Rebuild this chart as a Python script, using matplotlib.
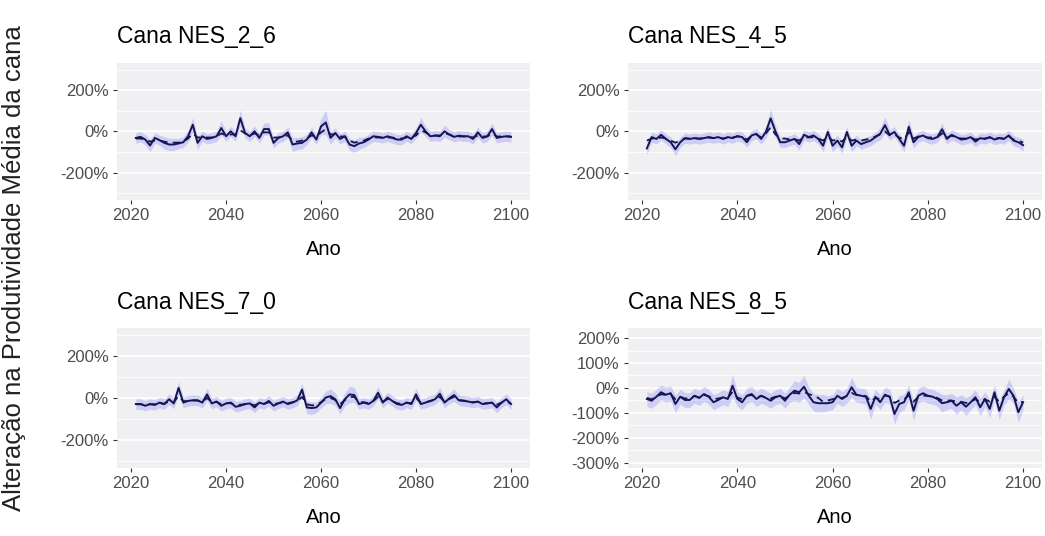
import numpy as np
import matplotlib
matplotlib.use("Agg")
import matplotlib.pyplot as plt
from matplotlib import font_manager
from matplotlib.ticker import FuncFormatter, MultipleLocator

# fonte estreita, como no grafico original (se existir)
nomes = {f.name for f in font_manager.fontManager.ttflist}
if 'Liberation Sans Narrow' in nomes:
    fonte_estreita = 'Liberation Sans Narrow'
    tam_tick, tam_titulo, tam_ano = 13.5, 18.5, 16.5
else:
    fonte_estreita = 'Liberation Sans'
    tam_tick, tam_titulo, tam_ano = 12, 16.5, 14.5

anos = list(range(2021, 2101))

titulos = ["Cana NES_2_6", "Cana NES_4_5", "Cana NES_7_0", "Cana NES_8_5"]

# linha continua (valores anuais, %)
nes_2_6 = [-32, -27, -40, -69, -32, -43, -56, -64, -64, -59,
           -53, -24, 32, -56, -24, -37, -32, -24, 16, -24,
           0, -24, 64, -8, -24, 0, -32, 11, 11, -56,
           -32, -24, -5, -64, -59, -56, -40, -5, -40, 24,
           43, -32, -8, -37, -24, -64, -72, -59, -53, -40,
           -24, -27, -32, -24, -32, -40, -40, -24, -37, -8,
           32, 0, -24, -21, -24, 0, -16, -27, -21, -24,
           -24, -37, -5, -32, -24, 11, -32, -27, -24, -27]
nes_4_5 = [-83, -28, -37, -17, -37, -53, -87, -53, -33, -37,
           -33, -37, -33, -28, -33, -28, -37, -28, -33, -23,
           -28, -53, -20, -12, -37, -3, 63, 0, -53, -53,
           -45, -37, -62, -17, -28, -20, -37, -70, -3, -70,
           -45, -78, -3, -70, -45, -62, -53, -45, -28, -12,
           30, -17, -3, -37, -70, 22, -53, -28, -20, -33,
           -37, -28, 10, -37, -17, -28, -40, -37, -28, -50,
           -33, -37, -28, -40, -33, -37, -20, -45, -53, -67]
nes_7_0 = [-29, -29, -37, -29, -33, -22, -29, -6, -26, 48,
           -22, -14, -11, -11, -22, 17, -26, -17, -37, -26,
           -22, -42, -37, -29, -26, -45, -22, -29, -14, -37,
           -26, -17, -29, -22, -11, 40, -45, -48, -45, -22,
           2, 9, -6, -48, -6, 17, 14, -29, -22, -29,
           -14, 25, -22, 2, -14, -29, -33, -22, -29, 17,
           -29, -22, -14, -6, 20, -22, -2, 14, -11, -14,
           -17, -22, -17, -29, -26, -22, -45, -22, -6, -29]
nes_8_5 = [-44, -51, -35, -17, -27, -21, -64, -35, -48, -48,
           -31, -40, -24, -35, -57, -48, -37, -44, 9, -44,
           -57, -31, -24, -44, -31, -40, -51, -37, -31, -51,
           -27, -11, -17, 5, -31, -57, -61, -61, -61, -57,
           -31, -44, -31, 3, -27, -31, -35, -84, -35, -57,
           -27, -35, -104, -64, -57, -17, -91, -31, -21, -31,
           -35, -44, -61, -57, -51, -71, -57, -75, -57, -37,
           -77, -44, -84, -17, -91, -37, -4, -31, -97, -57]

# linha tracejada (%)
trac_2_6 = [-35, -35, -40, -50, -45, -45, -50, -55, -55, -55,
            -50, -35, -10, -30, -30, -30, -30, -25, -10, -20,
            -15, -15, 5, -10, -20, -10, -20, -5, -5, -30,
            -30, -25, -20, -45, -50, -45, -35, -20, -25, -5,
            10, -15, -15, -25, -25, -45, -55, -50, -45, -35,
            -30, -30, -30, -30, -30, -35, -35, -30, -30, -20,
            5, -5, -20, -20, -20, -10, -15, -25, -25, -25,
            -25, -30, -20, -25, -25, -10, -25, -25, -25, -25]
trac_4_5 = [-45, -35, -35, -30, -35, -45, -55, -45, -35, -35,
            -33, -35, -33, -30, -33, -30, -35, -30, -30, -25,
            -28, -40, -22, -15, -30, -10, 20, -15, -35, -35,
            -40, -38, -45, -28, -30, -28, -35, -45, -25, -45,
            -40, -50, -25, -45, -40, -45, -40, -35, -25, -15,
            0, -20, -15, -30, -40, -5, -35, -25, -25, -30,
            -30, -28, -10, -30, -22, -28, -35, -35, -30, -40,
            -35, -35, -30, -35, -33, -35, -25, -40, -45, -55]
trac_7_0 = [-30, -30, -32, -30, -30, -25, -28, -15, -20, 10,
            -15, -15, -12, -12, -18, 0, -20, -18, -30, -25,
            -25, -35, -32, -30, -28, -35, -25, -28, -20, -30,
            -25, -20, -25, -20, -15, 5, -30, -35, -35, -20,
            -5, 0, -10, -30, -10, 5, 5, -20, -20, -25,
            -15, 5, -18, -5, -15, -25, -28, -22, -25, 0,
            -22, -20, -15, -8, 5, -18, -5, 5, -10, -12,
            -15, -20, -18, -25, -25, -22, -32, -22, -15, -28]
trac_8_5 = [-40, -45, -35, -25, -28, -25, -45, -35, -42, -42,
            -32, -38, -28, -33, -45, -42, -38, -40, -15, -38,
            -45, -32, -28, -38, -32, -38, -42, -35, -32, -42,
            -30, -20, -22, -15, -25, -30, -40, -55, -50, -45,
            -40, -40, -32, -20, -28, -30, -32, -55, -40, -45,
            -30, -35, -60, -50, -45, -30, -55, -35, -30, -32,
            -35, -40, -50, -50, -50, -55, -55, -60, -55, -45,
            -55, -45, -55, -35, -55, -35, -20, -35, -60, -55]

# meia largura da faixa de incerteza (%)
faixa_2_6 = [25, 25, 25, 30, 25, 25, 30, 30, 30, 25,
             25, 30, 35, 30, 25, 25, 25, 25, 35, 25,
             25, 25, 40, 25, 25, 25, 25, 30, 30, 25,
             25, 25, 25, 35, 30, 30, 25, 25, 25, 40,
             60, 30, 25, 25, 25, 30, 30, 30, 25, 25,
             25, 25, 25, 25, 25, 25, 25, 25, 25, 25,
             35, 25, 25, 25, 25, 30, 25, 25, 25, 25,
             25, 25, 25, 25, 25, 30, 25, 25, 25, 25]
faixa_4_5 = [30, 25, 25, 25, 25, 25, 30, 25, 25, 25,
             25, 25, 25, 25, 25, 25, 25, 25, 25, 25,
             25, 25, 25, 25, 25, 30, 45, 30, 25, 25,
             25, 25, 30, 25, 25, 25, 25, 30, 25, 30,
             25, 30, 25, 30, 25, 25, 25, 25, 25, 30,
             40, 25, 25, 25, 30, 35, 30, 25, 25, 25,
             25, 25, 30, 25, 25, 25, 25, 25, 25, 25,
             25, 25, 25, 25, 25, 25, 25, 25, 25, 30]
faixa_7_0 = [25, 25, 25, 25, 25, 25, 25, 25, 25, 30,
             25, 25, 25, 25, 25, 30, 25, 25, 25, 25,
             25, 25, 25, 25, 25, 25, 25, 25, 25, 25,
             25, 25, 25, 25, 25, 30, 30, 30, 25, 25,
             30, 35, 30, 30, 30, 40, 35, 25, 25, 25,
             25, 30, 25, 25, 25, 25, 25, 25, 25, 30,
             25, 25, 25, 25, 30, 25, 25, 30, 25, 25,
             25, 25, 25, 25, 25, 25, 25, 25, 25, 25]
faixa_8_5 = [30, 30, 30, 30, 30, 30, 35, 30, 30, 30,
             30, 30, 30, 30, 30, 30, 30, 30, 45, 30,
             30, 30, 30, 30, 30, 30, 30, 30, 30, 30,
             30, 40, 40, 45, 35, 35, 35, 35, 30, 30,
             30, 30, 30, 40, 30, 30, 30, 40, 30, 30,
             30, 30, 40, 35, 30, 30, 40, 30, 30, 30,
             30, 30, 35, 30, 30, 35, 30, 35, 30, 30,
             35, 30, 35, 30, 35, 30, 40, 30, 40, 30]

continuas = [nes_2_6, nes_4_5, nes_7_0, nes_8_5]
tracejadas = [trac_2_6, trac_4_5, trac_7_0, trac_8_5]
faixas = [faixa_2_6, faixa_4_5, faixa_7_0, faixa_8_5]

# posicoes dos paineis (fracao da figura)
posicoes = [[0.112, 0.627, 0.395, 0.256],
            [0.601, 0.627, 0.396, 0.256],
            [0.112, 0.127, 0.395, 0.261],
            [0.601, 0.127, 0.396, 0.261]]
limites_y = [(-333, 333), (-333, 333), (-333, 333), (-320, 240)]
passo_y = [200, 200, 200, 100]

cor_linha = '#151552'
cor_fundo = '#f0f0f2'

fig = plt.figure(figsize=(10.45, 5.36), dpi=100)

for i in range(4):
    ax = fig.add_axes(posicoes[i])
    ax.set_facecolor(cor_fundo)
    for s in ax.spines.values():
        s.set_visible(False)

    y = np.array(continuas[i])
    f = np.array(faixas[i])
    ax.fill_between(anos, y - f, y + f, color='#4040ff', alpha=0.2, lw=0)
    ax.plot(anos, tracejadas[i], color=cor_linha, lw=1.3, ls=(0, (4, 3)))
    ax.plot(anos, continuas[i], color=cor_linha, lw=1.4)

    ax.set_xlim(2017.05, 2103.95)
    ax.set_ylim(*limites_y[i])
    ax.set_xticks([2020, 2040, 2060, 2080, 2100])
    ax.yaxis.set_major_locator(MultipleLocator(passo_y[i]))
    ax.yaxis.set_minor_locator(MultipleLocator(passo_y[i] / 2))
    ax.yaxis.set_major_formatter(FuncFormatter(lambda v, p: f"{v:.0f}%"))
    ax.grid(True, axis='y', which='major', color='white', lw=1.2)
    ax.grid(True, axis='y', which='minor', color='white', lw=0.6)
    ax.set_axisbelow(True)
    ax.tick_params(axis='both', which='major', length=3, width=0.8,
                   color='#333333', labelcolor='#4d4d4d', labelsize=tam_tick, pad=3)
    ax.tick_params(axis='y', which='minor', length=0)
    for lab in ax.get_xticklabels() + ax.get_yticklabels():
        lab.set_family(fonte_estreita)

    px, py, pw, ph = posicoes[i]
    fig.text(px, py + ph + 0.048, titulos[i], family=fonte_estreita,
             fontsize=tam_titulo, ha='left', va='center')
    fig.text(px + pw / 2, py - 0.093, 'Ano', family=fonte_estreita,
             fontsize=tam_ano, ha='center', va='center')

fig.text(0.013, 0.5, 'Alteração na Produtividade Média da cana', rotation=90,
         family='Liberation Sans', fontsize=18.5, color='#222222',
         ha='center', va='center')

fig.savefig('out.png', dpi=100, facecolor='white')
